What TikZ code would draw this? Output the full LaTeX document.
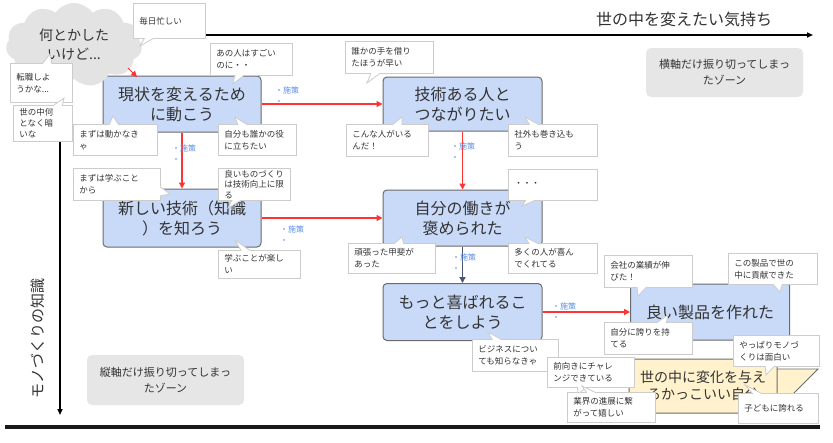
\documentclass[tikz,border=0pt]{standalone}
\usepackage{fontspec}
\setmainfont{Noto Sans CJK JP}
\usetikzlibrary{shapes.callouts,shapes.symbols,arrows.meta}
\definecolor{boxblue}{HTML}{C9DAF8}
\definecolor{boxline}{HTML}{6B6B6B}
\definecolor{yel}{HTML}{FFF2CC}
\definecolor{zonegray}{HTML}{E6E6E6}
\definecolor{cloudgray}{HTML}{E3E3E3}
\definecolor{lblue}{HTML}{5B8FE6}
\definecolor{arrred}{HTML}{FF3333}
\definecolor{slate}{HTML}{4A5670}
\definecolor{txt}{HTML}{333333}
\begin{document}
\begin{tikzpicture}[x=1pt,y=-1pt,
  mb/.style={draw=boxline, fill=boxblue, rounded corners=4pt, line width=1pt, align=center, font=\fontsize{16}{20}\selectfont, text=txt, inner sep=0pt},
  cb/.style={rectangle callout, fill=white, draw=black!20, line width=0.8pt, callout pointer width=9pt, anchor=north west, inner xsep=6pt, inner ysep=1pt, align=left, font=\fontsize{8.5}{12}\selectfont, text=txt},
  redarr/.style={draw=arrred, line width=1.3pt, -{Triangle[length=6pt,width=6pt]}},
  slatearr/.style={draw=slate, line width=1.3pt, -{Triangle[length=6pt,width=6pt]}},
  axisarr/.style={draw=black, line width=1.6pt, -{Triangle[length=6pt,width=5pt]}},
  lbl/.style={anchor=north west, inner sep=0pt, align=left, font=\fontsize{8}{11}\selectfont, text=lblue},
  zone/.style={fill=zonegray, rounded corners=5pt, align=center, font=\fontsize{11}{16}\selectfont, text=txt, inner sep=0pt}
]
\useasboundingbox (0,0) rectangle (833,442);
\fill[white] (0,0) rectangle (833,442);

% axes
\coordinate (o) at (60,35);
\coordinate (xe) at (813,35);
\coordinate (ye) at (60,415);
\draw[axisarr] (o) -- (xe);
\draw[axisarr] (o) -- (ye);
\coordinate (bl) at (5,427);
\coordinate (br) at (820,427);
\draw[line width=4pt, black!90] (bl) -- (br);

\node[font=\fontsize{16}{20}\selectfont, text=txt] (xlab) at (684,19) {世の中を変えたい気持ち};
\node[rotate=90, font=\fontsize{15}{18}\selectfont, text=txt] (ylab) at (38,338) {モノづくりの知識};

% zones
\node[zone, minimum width=157pt, minimum height=49pt] (z1) at (724.5,72.5) {横軸だけ振り切ってしまっ\\たゾーン};
\node[zone, minimum width=157pt, minimum height=50pt] (z2) at (165.5,380) {縦軸だけ振り切ってしまっ\\たゾーン};

% main boxes
\node[mb, minimum width=158pt, minimum height=56pt] (box1) at (182,104) {現状を変えるため\\に動こう};
\node[mb, minimum width=159pt, minimum height=54pt] (box2) at (462.5,104) {技術ある人と\\つながりたい};
\node[mb, minimum width=158pt, minimum height=58pt] (box3) at (182,218) {新しい技術（知識\\）を知ろう};
\node[mb, minimum width=159pt, minimum height=56pt] (box4) at (462.5,218) {自分の働きが\\褒められた};
\node[mb, minimum width=159pt, minimum height=57pt] (box5) at (462.5,312) {もっと喜ばれるこ\\とをしよう};
\node[mb, rounded corners=1.5pt, minimum width=159pt, minimum height=56pt] (box6) at (710,312) {良い製品を作れた};

% yellow
\fill[yel] (776,369) -- (818,369) -- (790,397) -- (776,397) -- cycle;
\draw[boxline, line width=0.8pt] (776,369) -- (818,369) -- (790,397);
\node[mb, fill=yel, rounded corners=1pt, minimum width=148pt, minimum height=54pt, font=\fontsize{14}{17}\selectfont] (goal) at (703,386) {世の中に変化を与え\\るかっこいい自分};

% connectors
\draw[redarr] (box1) -- (box2);
\draw[redarr] (box1) -- (box3);
\draw[redarr] (box3) -- (box4);
\draw[redarr] (box2) -- (box4);
\draw[slatearr] (box4) -- (box5);
\draw[redarr] (box5) -- (box6);

\node[lbl] (l1) at (275,87) {・施策\\・};
\node[lbl] (l2) at (172,145) {・施策\\・};
\node[lbl] (l3) at (280,226) {・施策\\・};
\node[lbl] (l4) at (451,143) {・施策\\・};
\node[lbl] (l5) at (452,254) {・施策\\・};
\node[lbl] (l6) at (552,303) {・施策\\・};

% cloud
\node[cloud, cloud puffs=11, cloud puff arc=110, cloud ignores aspect, fill=cloudgray, draw=none, minimum width=136pt, minimum height=84pt, align=center, font=\fontsize{14}{19}\selectfont, text=txt] (cloud) at (74,45) {何とかした\\いけど...};
\coordinate (ca) at (128,68);
\coordinate (cz) at (137,77);
\draw[redarr, line width=1pt] (ca) -- (cz);

% callouts
\node[cb, minimum width=72pt, minimum height=35pt, text width=60pt, callout absolute pointer={(140,46)}] (c1) at (133,3) {毎日忙しい};
\node[cb, minimum width=82pt, minimum height=32pt, text width=70pt, callout absolute pointer={(233,84)}] (c2) at (210,43) {あの人はすごい\\のに・・};
\node[cb, minimum width=62pt, minimum height=39pt, text width=50pt, callout absolute pointer={(50,54)}] (c3) at (10,63) {転職しよ\\うかな...};
\node[cb, minimum width=59pt, minimum height=36pt, text width=47pt, font=\fontsize{8.5}{11}\selectfont, callout absolute pointer={(64,98)}] (c4) at (13,105) {世の中何\\となく暗\\いな};
\node[cb, minimum width=84pt, minimum height=31pt, text width=72pt, callout absolute pointer={(113,116)}] (c5) at (73,124) {まずは動かなき\\ゃ};
\node[cb, minimum width=78pt, minimum height=31pt, text width=66pt, callout absolute pointer={(235,117)}] (c6) at (218,124) {自分も誰かの役\\に立ちたい};
\node[cb, minimum width=88pt, minimum height=32pt, text width=76pt, callout absolute pointer={(367,83)}] (c7) at (345,41) {誰かの手を借り\\たほうが早い};
\node[cb, minimum width=82pt, minimum height=32pt, text width=70pt, callout absolute pointer={(402,117)}] (c8) at (346,124) {こんな人がいる\\んだ！};
\node[cb, minimum width=89pt, minimum height=32pt, text width=77pt, callout absolute pointer={(525,117)}] (c9) at (508,124) {社外も巻き込も\\う};
\node[cb, minimum width=87pt, minimum height=32pt, text width=75pt, callout absolute pointer={(170,194)}] (c10) at (73,168) {まずは学ぶこと\\から};
\node[cb, minimum width=72pt, minimum height=32pt, text width=60pt, font=\fontsize{8.5}{10.5}\selectfont, callout absolute pointer={(228,208)}] (c11) at (218,168) {良いものづくり\\は技術向上に限\\る};
\node[cb, minimum width=82pt, minimum height=28pt, text width=70pt, callout absolute pointer={(235,240)}] (c12) at (218,250) {学ぶことが楽し\\い};
\node[cb, minimum width=89pt, minimum height=31pt, text width=77pt, callout absolute pointer={(522,206)}] (c13) at (508,169) {・・・};
\node[cb, minimum width=87pt, minimum height=30pt, text width=75pt, callout absolute pointer={(402,237)}] (c14) at (348,243) {頑張った甲斐が\\あった};
\node[cb, minimum width=89pt, minimum height=30pt, text width=77pt, callout absolute pointer={(525,237)}] (c15) at (508,243) {多くの人が喜ん\\でくれてる};
\node[cb, minimum width=86pt, minimum height=32pt, text width=74pt, callout absolute pointer={(488,332)}] (c16) at (472,339) {ビジネスについ\\ても知らなきゃ};
\node[cb, minimum width=88pt, minimum height=32pt, text width=76pt, callout absolute pointer={(638,296)}] (c17) at (604,255) {会社の業績が伸\\びた！};
\node[cb, minimum width=89pt, minimum height=31pt, text width=77pt, callout absolute pointer={(780,292)}] (c18) at (728,253) {この製品で世の\\中に貢献できた};
\node[cb, minimum width=88pt, minimum height=32pt, text width=76pt, callout absolute pointer={(668,315)}] (c19) at (604,322) {自分に誇りを持\\てる};
\node[cb, minimum width=86pt, minimum height=31pt, text width=74pt, callout absolute pointer={(766,375)}] (c20) at (733,335) {やっぱりモノづ\\くりは面白い};
\node[cb, minimum width=87pt, minimum height=30pt, text width=75pt, callout absolute pointer={(578,394)}] (c21) at (547,357) {前向きにチャレ\\ンジできている};
\node[cb, minimum width=88pt, minimum height=30pt, text width=76pt, callout absolute pointer={(582,386)}] (c22) at (567,392) {業界の進展に繋\\がって嬉しい};
\node[cb, minimum width=80pt, minimum height=30pt, text width=68pt, callout absolute pointer={(745,385)}] (c23) at (738,393) {子どもに誇れる};
\end{tikzpicture}
\end{document}
